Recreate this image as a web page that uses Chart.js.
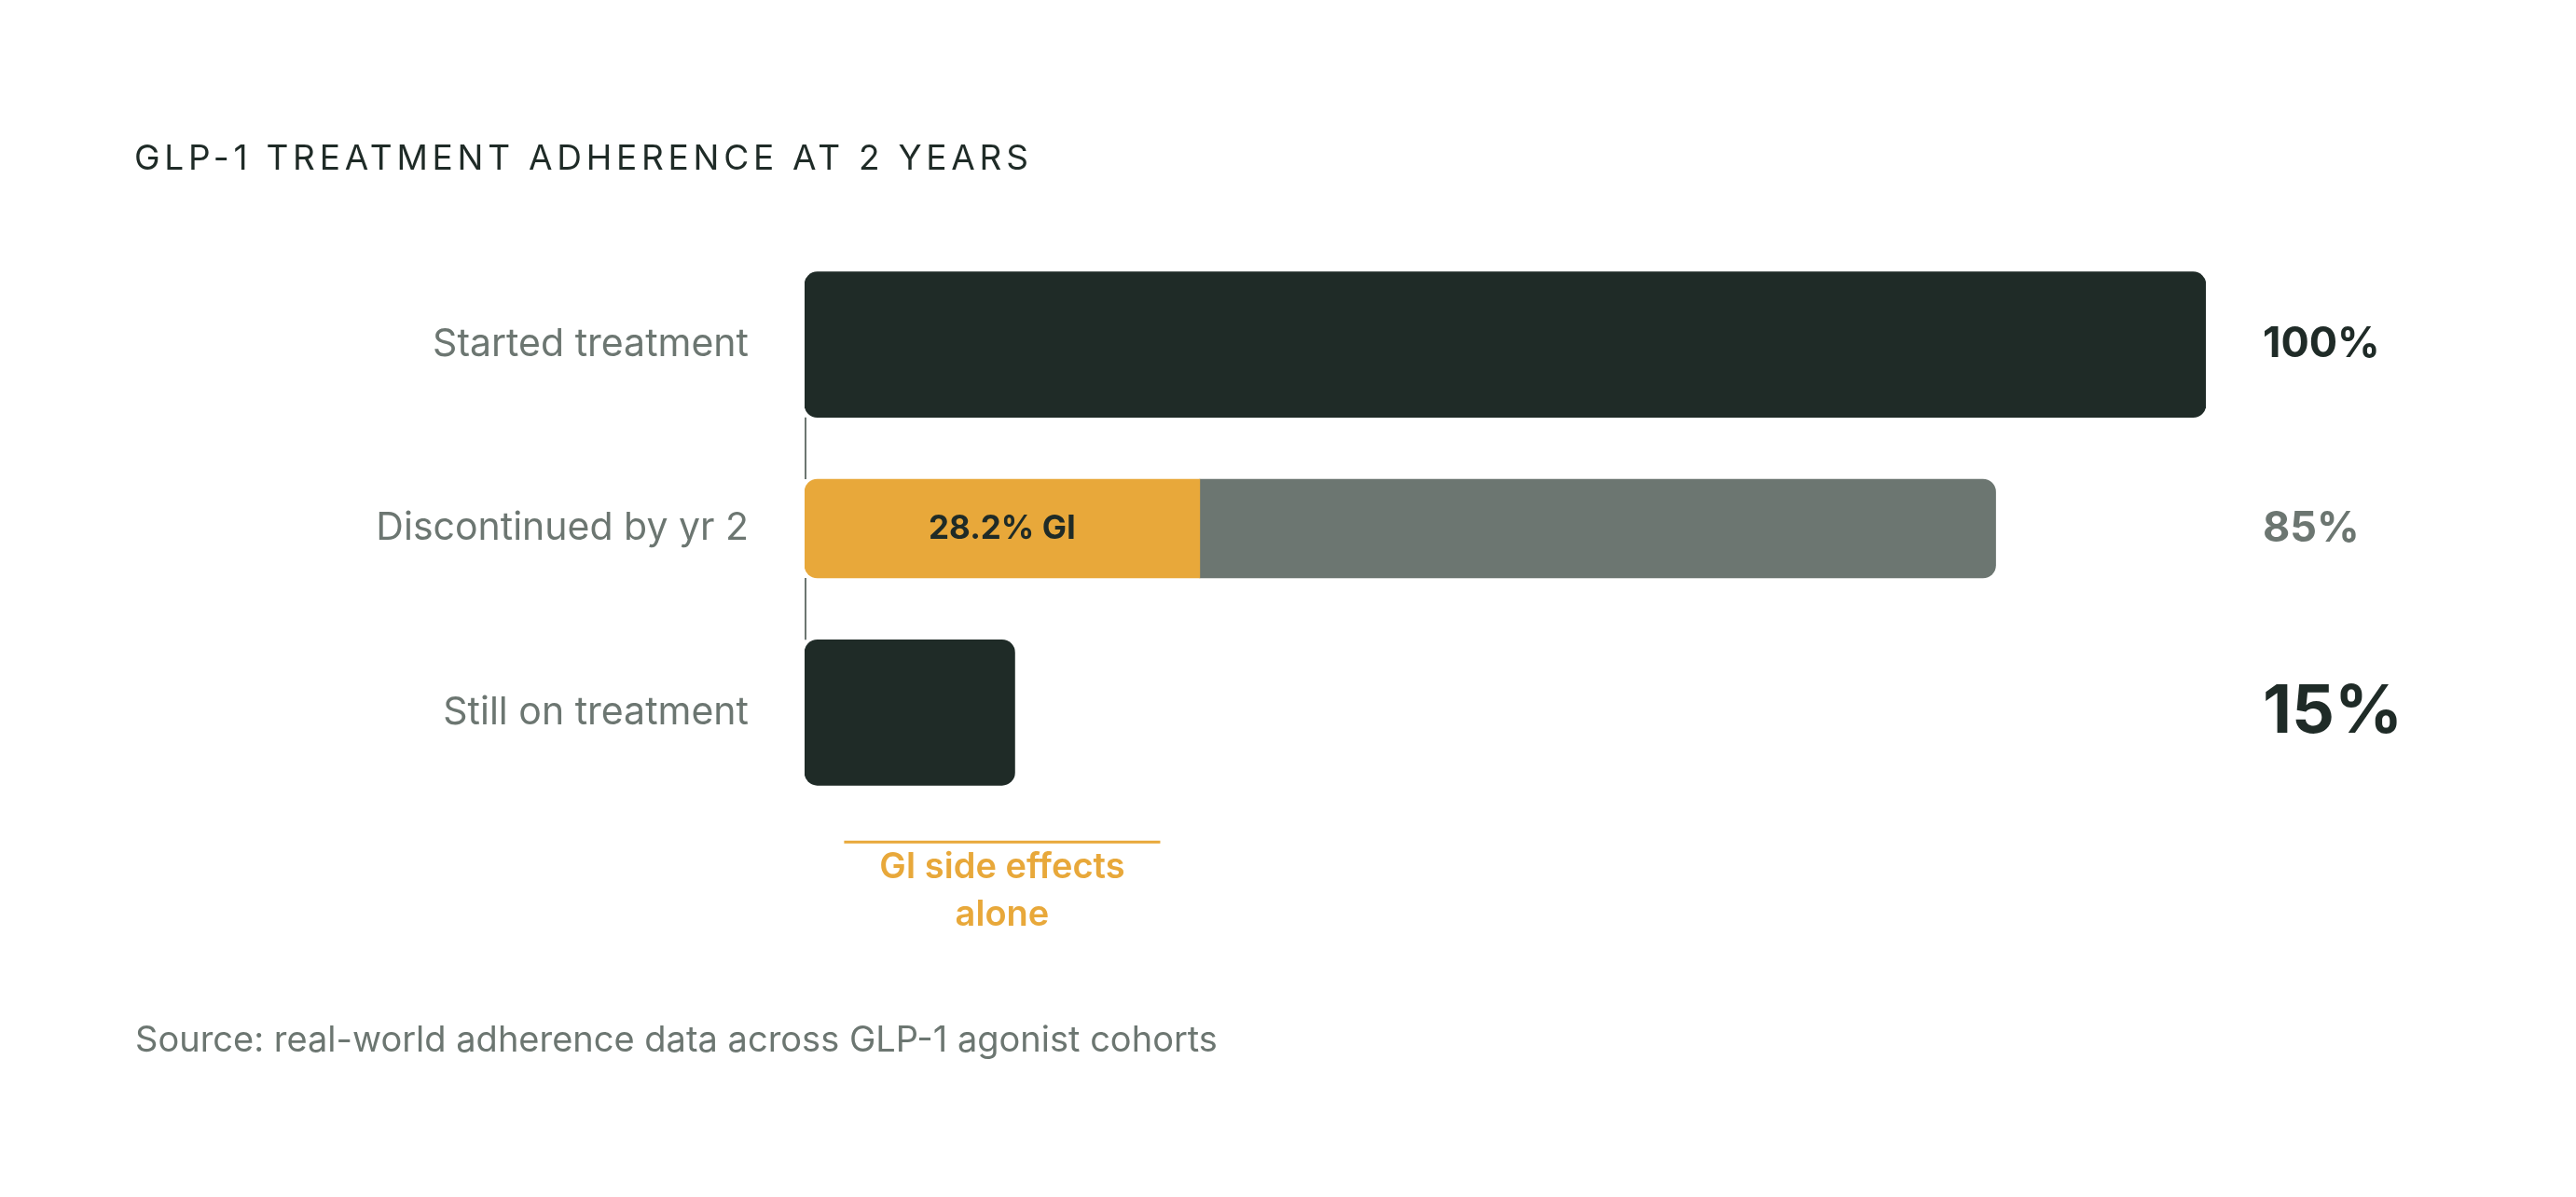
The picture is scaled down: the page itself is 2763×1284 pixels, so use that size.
<!DOCTYPE html>
<html lang="en">
  <head>
    <meta charset="UTF-8" />
    <title>GLP-1 treatment adherence</title>
    <script src="https://cdn.jsdelivr.net/npm/chart.js@4.4.1/dist/chart.umd.min.js"></script>
    <style>
      body { margin: 0; background: #ffffff; font-family: Inter, "Noto Sans", sans-serif; }
      #wrap { position: relative; width: 2763px; height: 1284px; }
      #title {
        position: absolute; left: 144px; top: 150px; margin: 0;
        font-size: 37px; line-height: 37px; font-weight: 400;
        letter-spacing: 4.75px; color: #1f2b27;
      }
      #source {
        position: absolute; left: 145px; top: 1095px; margin: 0;
        font-size: 38px; line-height: 38px; color: #6c7671;
      }
      #chartBox { position: absolute; left: 0; top: 0; width: 2763px; height: 1284px; }
    </style>
  </head>
  <body>
    <div id="wrap">
      <div id="chartBox"><canvas id="adherenceChart"></canvas></div>
      <h2 id="title">GLP-1 TREATMENT ADHERENCE AT 2 YEARS</h2>
      <p id="source">Source: real-world adherence data across GLP-1 agonist cohorts</p>
    </div>

    <script>
      // rows of the chart
      const categories = ["Started treatment", "Discontinued by yr 2", "Still on treatment"];

      // share of patients (%)
      const onTreatment = [100, null, 15];
      const giDiscontinued = [null, 28.2, null];
      const otherDiscontinued = [null, 56.8, null];

      // texts next to / inside the bars
      const valueLabels = ["100%", "85%", "15%"];
      const giLabel = "28.2% GI";
      const noteLines = ["GI side effects", "alone"];

      const DARK = "#1f2b27";
      const GREY = "#6c7671";
      const ORANGE = "#e8a83a";
      const FONT = "Inter, 'Noto Sans', sans-serif";

      // which dataset holds the bar for each row
      function rowBar(chart, i) {
        for (let d = 0; d < chart.data.datasets.length; d++) {
          const v = chart.data.datasets[d].data[i];
          if (v !== null && v !== undefined) return chart.getDatasetMeta(d).data[i];
        }
        return null;
      }

      const annotations = {
        id: "annotations",
        afterDatasetsDraw(chart) {
          const ctx = chart.ctx;
          const x = chart.scales.x;
          const y = chart.scales.y;
          ctx.save();

          // thin connectors between the bars
          ctx.strokeStyle = GREY;
          ctx.lineWidth = 2;
          const x0 = x.getPixelForValue(0) + 1;
          for (let i = 0; i < categories.length - 1; i++) {
            const a = rowBar(chart, i);
            const b = rowBar(chart, i + 1);
            ctx.beginPath();
            ctx.moveTo(x0, a.y + a.height / 2);
            ctx.lineTo(x0, b.y - b.height / 2);
            ctx.stroke();
          }

          // values at the right
          const styles = [
            { size: 45, color: DARK },
            { size: 45, color: GREY },
            { size: 72, color: DARK },
          ];
          ctx.textAlign = "left";
          ctx.textBaseline = "middle";
          valueLabels.forEach((t, i) => {
            ctx.font = "700 " + styles[i].size + "px " + FONT;
            ctx.fillStyle = styles[i].color;
            ctx.fillText(t, x.right + 61, y.getPixelForValue(i));
          });

          // label inside the orange segment
          const gi = chart.getDatasetMeta(1).data[1];
          const giCenter = (gi.x + gi.base) / 2;
          ctx.font = "700 35px " + FONT;
          ctx.fillStyle = DARK;
          ctx.textAlign = "center";
          ctx.fillText(giLabel, giCenter, gi.y);

          // note under the chart
          const last = rowBar(chart, categories.length - 1);
          const lineY = last.y + last.height / 2 + 61;
          const half = Math.abs(gi.x - gi.base) * 0.4;
          ctx.strokeStyle = ORANGE;
          ctx.lineWidth = 3;
          ctx.beginPath();
          ctx.moveTo(giCenter - half, lineY);
          ctx.lineTo(giCenter + half, lineY);
          ctx.stroke();
          ctx.font = "600 38px " + FONT;
          ctx.fillStyle = ORANGE;
          ctx.textBaseline = "alphabetic";
          noteLines.forEach((t, k) => {
            ctx.fillText(t, giCenter, lineY + 39 + k * 51);
          });

          ctx.restore();
        },
      };

      const ctx = document.getElementById("adherenceChart").getContext("2d");
      const adherenceChart = new Chart(ctx, {
        type: "bar",
        data: {
          labels: categories,
          datasets: [
            {
              label: "On treatment",
              data: onTreatment,
              backgroundColor: DARK,
              barThickness: 156,
              borderSkipped: false,
              borderRadius: { topLeft: 14, topRight: 14, bottomLeft: 14, bottomRight: 14 },
            },
            {
              label: "GI side effects",
              data: giDiscontinued,
              backgroundColor: ORANGE,
              barThickness: 106,
              borderSkipped: false,
              borderRadius: { topLeft: 14, bottomLeft: 14, topRight: 0, bottomRight: 0 },
            },
            {
              label: "Other reasons",
              data: otherDiscontinued,
              backgroundColor: GREY,
              barThickness: 106,
              borderSkipped: false,
              borderRadius: { topLeft: 0, bottomLeft: 0, topRight: 14, bottomRight: 14 },
            },
          ],
        },
        options: {
          indexAxis: "y",
          responsive: true,
          maintainAspectRatio: false,
          devicePixelRatio: 1,
          animation: false,
          layout: { padding: { top: 271, bottom: 421, left: 0, right: 397 } },
          plugins: {
            legend: { display: false },
            tooltip: { enabled: false },
          },
          scales: {
            x: { stacked: true, min: 0, max: 100, display: false },
            y: {
              stacked: true,
              grid: { display: false, drawTicks: false },
              border: { display: false },
              ticks: {
                color: GREY,
                padding: 60,
                font: { family: FONT, size: 41, weight: "400" },
              },
              afterFit(scale) {
                scale.width = 863;
              },
            },
          },
        },
        plugins: [annotations],
      });
    </script>
  </body>
</html>
